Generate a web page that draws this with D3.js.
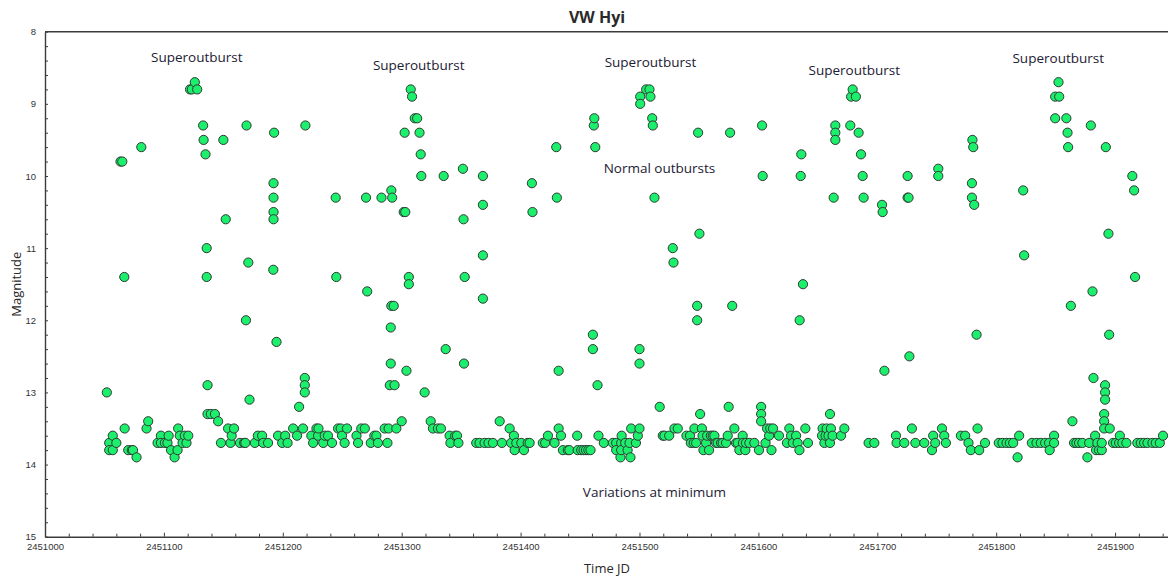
<!DOCTYPE html>
<html>
<head>
<meta charset="utf-8">
<script src="https://cdn.jsdelivr.net/npm/d3@7"></script>
<style>
  html, body { margin: 0; padding: 0; background: #ffffff; }
  svg { display: block; }
</style>
</head>
<body>
<svg id="chart" width="1168" height="579"></svg>
<script>
// VW Hyi visual magnitude estimates, [Julian Date, magnitude]
const season1 = [
  [2451052,13.0],[2451054,13.7],[2451054,13.8],[2451057,13.6],[2451057,13.8],[2451060,13.7],
  [2451063.5,9.8],[2451065,9.8],[2451066.7,11.4],[2451067,13.5],[2451070,13.8],[2451073,13.8],
  [2451074,13.8],[2451077,13.9],[2451081,9.6],[2451085.4,13.5],[2451086.8,13.4],[2451094.7,13.7],
  [2451097.5,13.6],[2451097.5,13.7],[2451100.8,13.7],[2451103,13.7],[2451104,13.6],[2451106,13.8],
  [2451109,13.9],[2451111.5,13.8],[2451112,13.5],[2451113.4,13.6],[2451115.7,13.7],[2451117.6,13.6],
  [2451119,13.7],[2451120.5,13.6],[2451122,8.8],[2451123.5,8.8],[2451126,8.7],[2451128,8.8],
  [2451133,9.3],[2451133.4,9.5],[2451135,9.7],[2451136,11.0],[2451136,11.4],[2451136.7,12.9],
  [2451136.7,13.3],[2451139.5,13.3],[2451142.9,13.3],[2451145.6,13.4],[2451148,13.7],[2451150,9.5],
  [2451152,10.6],[2451154,13.5],[2451156,13.7],[2451157,13.6],[2451159,13.5],[2451164,13.7],
  [2451167.5,13.7],[2451168.5,13.7],[2451169,12.0],[2451169.5,9.3],[2451171,11.2],[2451172,13.1],
  [2451176.5,13.7],[2451179,13.6],[2451182.6,13.6],[2451183.5,13.7],[2451187.6,13.7],[2451192.2,10.1],
  [2451192.2,10.3],[2451192.2,10.5],[2451192.2,10.6],[2451192,11.3],[2451192.7,9.4],[2451194.7,12.3],
  [2451196,13.6],[2451199.5,13.7],[2451202,13.6],[2451204,13.7],[2451208.7,13.5],[2451212,13.6],
  [2451213.7,13.2],[2451217,13.5],[2451218.5,12.8],[2451218.5,12.9],[2451218.5,13.0],[2451219,9.3],
  [2451224,13.6],[2451225.5,13.7],[2451228.3,13.5],[2451229.7,13.6],[2451230,13.5],[2451234,13.7],
  [2451235.3,13.6],[2451238,13.6],[2451241.4,13.7],[2451244.5,10.3],[2451245,11.4],[2451246.5,13.5],
  [2451248.7,13.5],[2451249.8,13.6],[2451252,13.7],[2451254,13.5],[2451262,13.6],[2451263.3,13.7],
  [2451266,13.5],[2451269,13.5],[2451270,10.3],[2451271,11.6],[2451274,13.7],[2451277,13.6],
  [2451278.7,13.6],[2451280,13.7],[2451283,10.3],[2451285.7,13.5],[2451288,13.7],[2451289,13.5],
  [2451290,12.9],[2451290.8,12.1],[2451290.8,12.6],[2451291.3,10.2],[2451291.3,11.8],[2451292,10.3],
  [2451293.3,11.8],[2451294,12.9],[2451295.5,13.5],[2451300,13.4]
];

const season2 = [
  [2451301.7,10.5],[2451302.5,9.4],[2451303,10.5],[2451304,12.7],[2451306,11.4],[2451306,11.5],
  [2451307.6,8.8],[2451308.7,8.9],[2451311,9.2],[2451313,9.2],[2451315,9.4],[2451316,9.7],
  [2451316.5,10.0],[2451319.3,13.0],[2451324.4,13.4],[2451326.3,13.5],[2451330.5,13.5],[2451333,13.5],
  [2451335.3,10.0],[2451337,12.4],[2451340.3,13.6],[2451341,13.7],[2451345,13.6],[2451346.5,13.6],
  [2451347.7,13.7],[2451351.5,9.9],[2451352,10.6],[2451352.4,12.6],[2451353,11.4],[2451362.7,13.7],
  [2451365.5,13.7],[2451368.3,10.0],[2451368.3,10.4],[2451368.3,11.1],[2451368.3,11.7],[2451369.7,13.7],
  [2451373,13.7],[2451376.7,13.7],[2451382.4,13.4],[2451384.3,13.7],[2451390.8,13.5],[2451392,13.7],
  [2451394.4,13.6],[2451395,13.8],[2451396.4,13.7],[2451400.6,13.7],[2451402.8,13.8],[2451406,13.7],
  [2451407.6,13.7],[2451409.5,10.1],[2451410,10.5],[2451418.7,13.7],[2451420.7,13.7],[2451423,13.6],
  [2451428.6,13.7],[2451430,9.6],[2451430.5,10.3],[2451432,13.5],[2451432,12.7],[2451434,13.6],
  [2451435.6,13.8],[2451439.7,13.8],[2451441,13.8],[2451447.6,13.6],[2451448,13.8],[2451451,13.8],
  [2451453,13.8],[2451455,13.8],[2451457,13.8],[2451458.8,13.8],[2451460.8,12.2],[2451460.8,12.4],
  [2451461.6,9.3],[2451462,9.2],[2451462.8,9.6],[2451464.7,12.9],[2451465.5,13.6],[2451470,13.7],
  [2451477.6,13.7],[2451480.4,13.7],[2451480.4,13.8],[2451484,13.9],[2451484.6,13.7],[2451484.6,13.8],
  [2451485,13.6],[2451488,13.7],[2451490,13.8],[2451491.6,13.7],[2451492.4,13.9],[2451493,13.5],
  [2451497,13.7],[2451498.6,13.6],[2451500,13.5],[2451500,12.4],[2451500,12.6],[2451500.6,8.9],
  [2451500.6,9.0],[2451505.6,8.8],[2451508.4,8.8],[2451509.2,8.9],[2451510.7,9.2],[2451511.2,9.3],
  [2451512.6,10.3],[2451517,13.2],[2451519.6,13.6],[2451521,13.6],[2451525,13.6],[2451528,11.0],
  [2451528.6,11.2],[2451529.4,13.5],[2451532.2,13.5],[2451539.5,13.6],[2451542.5,13.6],[2451543.2,13.7],
  [2451545.6,13.7],[2451546.2,13.5],[2451547.6,13.7],[2451548.5,11.8],[2451548.5,12.0],[2451549.3,9.4],
  [2451550.4,10.8],[2451551,13.3],[2451552.5,13.5],[2451553,13.6],[2451553.8,13.8],[2451556,13.7],
  [2451556.9,13.6],[2451558.5,13.8],[2451560,13.6],[2451561.6,13.6],[2451563,13.6],[2451564.4,13.7],
  [2451565.8,13.7],[2451568.6,13.7],[2451570,13.7],[2451572.8,13.7],[2451574.2,13.6],[2451575,13.2],
  [2451576.2,9.4],[2451578,11.8],[2451579.8,13.5],[2451581.2,13.7],[2451582.6,13.7],[2451584,13.8],
  [2451586.8,13.6],[2451587,13.7],[2451589,13.8],[2451589.5,13.7],[2451592.4,13.7],[2451596.6,13.7],
  [2451600.5,13.8],[2451602.3,13.2],[2451602.3,13.3],[2451602.3,13.4],[2451603.1,9.3],[2451603.6,10.0],
  [2451606,13.7],[2451607.3,13.5],[2451609,13.6],[2451610,13.5],[2451611,13.8],[2451612.3,13.5],
  [2451617.3,13.6],[2451624,13.7]
];

const season3 = [
  [2451626,13.5],[2451627.5,13.6],[2451629,13.7],[2451631.7,13.6],[2451633,13.7],[2451634.5,13.8],
  [2451634.7,12.0],[2451635.6,10.0],[2451636.1,9.7],[2451637.5,11.5],[2451639.5,13.5],[2451641.7,13.7],
  [2451654,13.5],[2451653.5,13.6],[2451655.5,13.7],[2451656.5,13.6],[2451657.4,13.5],[2451659,13.6],
  [2451660.2,13.3],[2451660.2,13.7],[2451661,13.5],[2451662.4,13.6],[2451663.3,10.3],[2451664.7,9.3],
  [2451664.7,9.4],[2451664.7,9.5],[2451669.5,13.6],[2451672.3,13.5],[2451677.3,9.3],[2451678,8.9],
  [2451679.3,8.8],[2451682,8.9],[2451684.3,9.4],[2451686.3,9.7],[2451687.7,10.0],[2451688.5,10.3],
  [2451692.7,13.7],[2451697.5,13.7],[2451704,10.4],[2451704.5,10.5],[2451706,12.7],[2451715.7,13.6],
  [2451716.2,13.7],[2451722.7,13.7],[2451725.5,10.0],[2451725.5,10.3],[2451726.3,10.3],[2451727,12.5],
  [2451729.1,13.5],[2451732,13.7],[2451739.5,13.7],[2451746,13.8],[2451747,13.6],[2451748.7,13.7],
  [2451751.3,9.9],[2451751.3,10.0],[2451754.4,13.5],[2451756.3,13.6],[2451757.7,13.7],[2451770.3,13.6],
  [2451773.9,13.6],[2451776.7,13.7],[2451778.7,13.8],[2451779.6,10.1],[2451779.6,10.3],[2451780,9.5],
  [2451780.7,9.6],[2451781.5,10.4],[2451783.5,12.2],[2451784.3,13.5],[2451785.7,13.8],[2451790.6,13.7],
  [2451802.2,13.7],[2451805.3,13.7],[2451808.7,13.7],[2451811.5,13.7],[2451814.3,13.7],[2451818,13.9],
  [2451819.3,13.6],[2451822.7,10.2],[2451823.5,11.1],[2451830,13.7],[2451833.9,13.7],[2451837.5,13.7],
  [2451841.2,13.7],[2451844.5,13.7],[2451845,13.8],[2451848.7,13.6],[2451848.7,13.7],[2451849.6,8.9],
  [2451849.6,9.2],[2451852.4,8.7],[2451853,8.9],[2451859,9.2],[2451860,9.4],[2451860.5,9.6],
  [2451862.8,11.8],[2451864.1,13.4],[2451865.5,13.7],[2451867.5,13.7],[2451869.7,13.7],[2451872.5,13.7],
  [2451876.7,13.9],[2451878.2,13.7],[2451879.6,9.3],[2451881,11.6],[2451881.8,12.8],[2451883.2,13.6],
  [2451884,13.8],[2451885.1,13.7],[2451886.5,13.8],[2451888.8,13.8],[2451888.8,13.7],[2451890.8,13.3],
  [2451890.8,13.4],[2451891.6,12.9],[2451891.6,13.0],[2451891.6,13.1],[2451890.8,13.5],[2451892.2,9.6],
  [2451894.4,10.8],[2451895,12.2],[2451895.5,13.5],[2451898.3,13.7],[2451900.6,13.7],[2451903.4,13.7],
  [2451904,13.6],[2451906.1,13.7],[2451909.5,13.7],[2451914.5,10.0],[2451916,10.2],[2451916.8,11.4],
  [2451918.7,13.7],[2451921.6,13.7],[2451924.4,13.7],[2451927.2,13.7],[2451931.4,13.7],[2451934.2,13.7],
  [2451937.6,13.7],[2451940.3,13.6]
];

// Axis ticks
const xTickLabels = [2451000, 2451100, 2451200, 2451300, 2451400, 2451500, 2451600, 2451700, 2451800, 2451900];
const yTickLabels = [8, 9, 10, 11, 12, 13, 14, 15];

// Text notes placed at [Julian Date, magnitude]
const noteText = ["Superoutburst", "Superoutburst", "Superoutburst", "Superoutburst", "Superoutburst",
                  "Normal outbursts", "Variations at minimum"];
const noteJD = [2451127.7, 2451314.3, 2451509.2, 2451680.7, 2451852.2, 2451516.8, 2451512.6];
const noteMag = [8.35, 8.46, 8.42, 8.53, 8.36, 9.89, 14.38];

const svg = d3.select("#chart");
const plot = { left: 45, right: 1168, top: 31.7, bottom: 536.7 };

const x = d3.scaleLinear().domain([2451000, 2451944.5]).range([plot.left, plot.right]);
const y = d3.scaleLinear().domain([8, 15]).range([plot.top, plot.bottom]);

const axisColor = "#3c3c3c";
const tickFont = "'Liberation Sans', Arial, sans-serif";
const textFont = "'Open Sans', 'Noto Sans', sans-serif";

// Title
svg.append("text")
  .attr("x", 597).attr("y", 17)
  .attr("text-anchor", "middle").attr("dominant-baseline", "central")
  .style("font-family", textFont)
  .style("font-weight", "bold").style("font-size", "16px").style("fill", "#2a2a2a")
  .text("VW Hyi");

// Bottom axis: minor ticks every 20 days, labels every 100
const xAxis = d3.axisBottom(x)
  .tickValues(d3.range(2451000, 2451944, 20))
  .tickSizeInner(-3).tickSizeOuter(0).tickPadding(7)
  .tickFormat(d => xTickLabels.includes(d) ? String(d) : "");
const gx = svg.append("g").attr("transform", `translate(0,${plot.bottom})`).call(xAxis);
gx.select(".domain").attr("stroke", axisColor).attr("stroke-width", 1.4);
gx.selectAll(".tick line").attr("stroke", axisColor).attr("stroke-width", 1)
  .attr("y2", d => xTickLabels.includes(d) ? -4 : -3);
gx.selectAll(".tick text").style("font-family", tickFont).style("font-size", "9.5px").attr("fill", "#333");

// Left axis: ticks every 0.2 mag, labels at whole magnitudes
const yAxis = d3.axisLeft(y)
  .tickValues(d3.range(0, 36).map(i => 8 + i * 0.2))
  .tickSizeInner(-3).tickSizeOuter(0).tickPadding(9)
  .tickFormat(d => Math.abs(d - Math.round(d)) < 1e-6 && yTickLabels.includes(Math.round(d)) ? String(Math.round(d)) : "");
const gy = svg.append("g").attr("transform", `translate(${plot.left},0)`).call(yAxis);
gy.select(".domain").attr("stroke", axisColor).attr("stroke-width", 1.4);
gy.selectAll(".tick line").attr("stroke", axisColor).attr("stroke-width", 1);
gy.selectAll(".tick text").style("font-family", tickFont).style("font-size", "9.5px").attr("fill", "#333");

// Top frame line
svg.append("line")
  .attr("x1", plot.left).attr("x2", plot.right).attr("y1", plot.top).attr("y2", plot.top)
  .attr("stroke", axisColor).attr("stroke-width", 1.4);

// Axis titles
svg.append("text")
  .attr("x", 607).attr("y", 568)
  .attr("text-anchor", "middle").attr("dominant-baseline", "central")
  .style("font-family", textFont).style("font-size", "13px").style("fill", "#2a2a2a")
  .text("Time JD");
svg.append("text")
  .attr("transform", `translate(16,${(plot.top + plot.bottom) / 2}) rotate(-90)`)
  .attr("text-anchor", "middle").attr("dominant-baseline", "central")
  .style("font-family", textFont).style("font-size", "13px").style("fill", "#2a2a2a")
  .text("Magnitude");

// Observations
const allObs = season1.concat(season2, season3);
svg.append("g").selectAll("circle")
  .data(allObs)
  .join("circle")
  .attr("cx", d => x(d[0]))
  .attr("cy", d => y(d[1]))
  .attr("r", 4.6)
  .attr("fill", "#1cef6c")
  .attr("stroke", "#2e3a33")
  .attr("stroke-width", 1);

// Notes
svg.append("g").selectAll("text")
  .data(noteText.map((t, i) => ({ t, jd: noteJD[i], m: noteMag[i] })))
  .join("text")
  .attr("x", d => x(d.jd))
  .attr("y", d => y(d.m))
  .attr("text-anchor", "middle").attr("dominant-baseline", "central")
  .style("font-family", textFont).style("font-size", "13.5px").style("fill", "#1c2033")
  .text(d => d.t);
</script>
</body>
</html>
